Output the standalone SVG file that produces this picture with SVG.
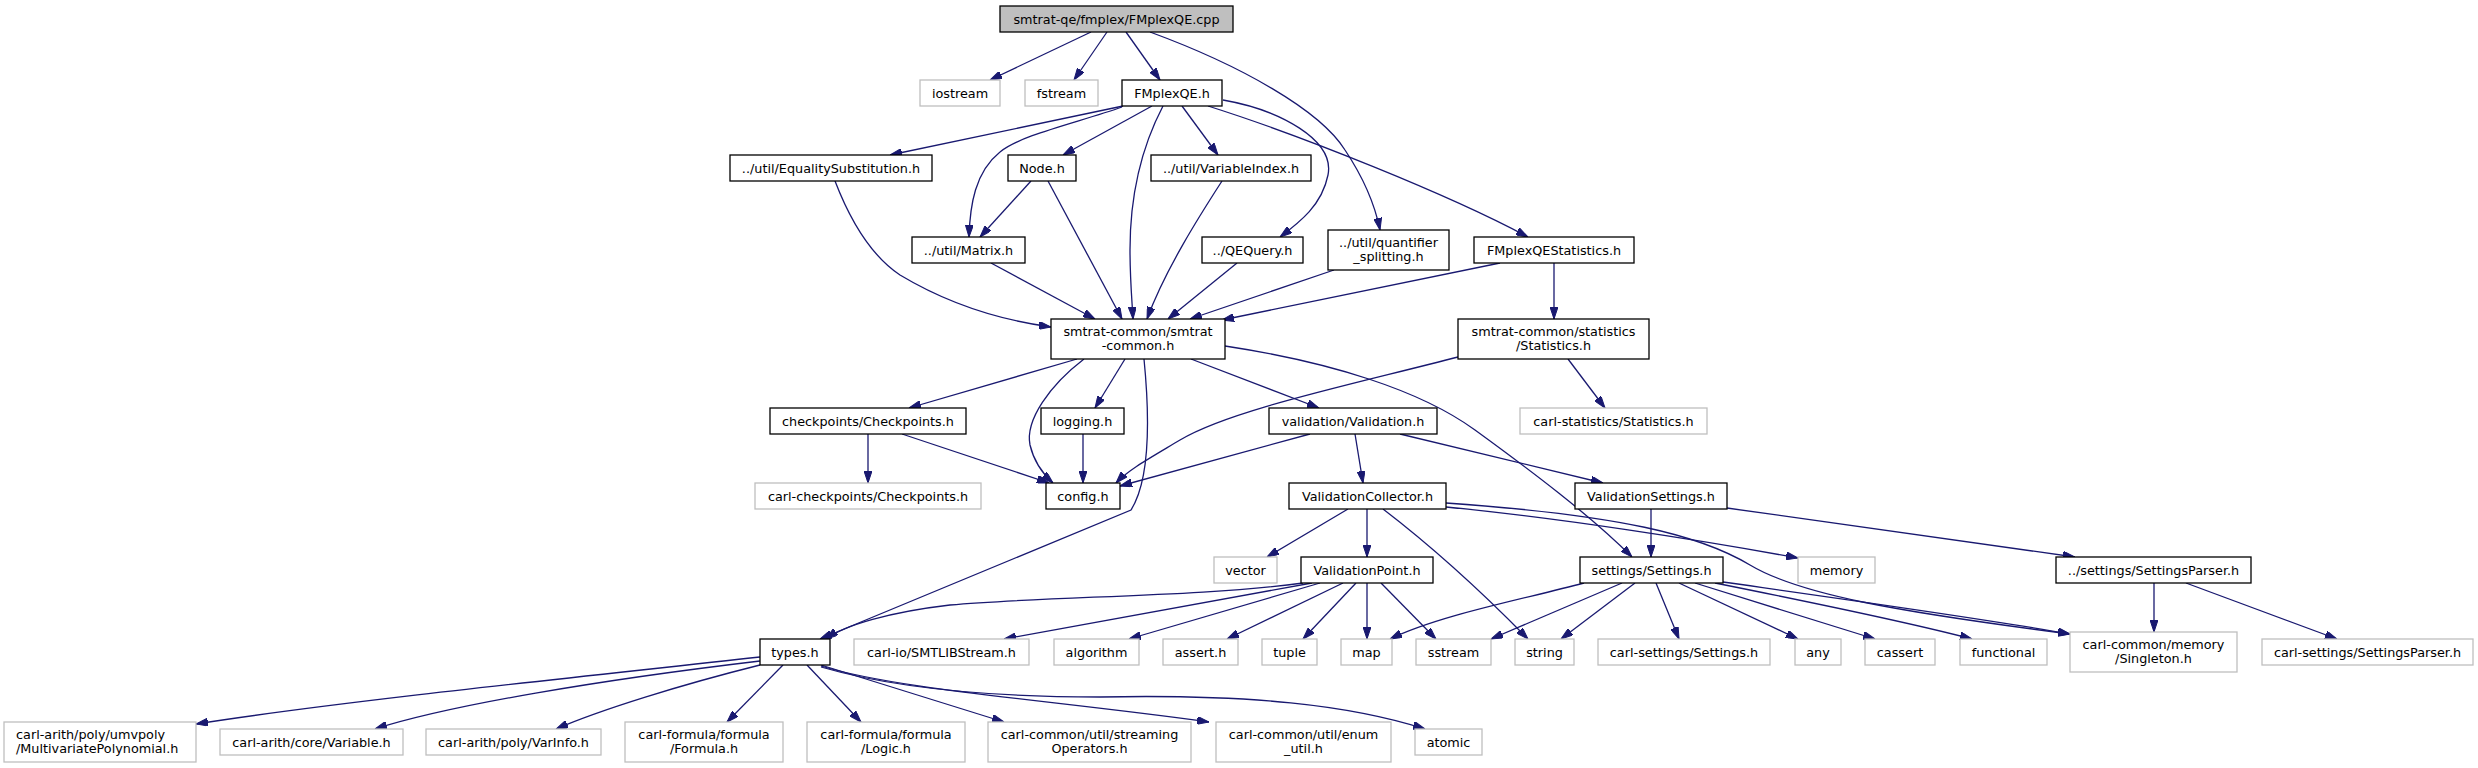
<svg xmlns="http://www.w3.org/2000/svg" width="2478" height="768" viewBox="0 0 2478 768">
<style>
.n rect{fill:#fff;stroke:#000;stroke-width:1.3}
.g rect{fill:#fff;stroke:#bfbfbf;stroke-width:1.3}
.r rect{fill:#bfbfbf;stroke:#000;stroke-width:1.3}
text{font-family:"DejaVu Sans",sans-serif;font-size:12.8px;fill:#000;text-anchor:middle}
#edges path{fill:none;stroke:#191970;stroke-width:1.3;marker-end:url(#a)}
</style>
<defs>
<marker id="a" markerWidth="12" markerHeight="8" refX="12" refY="4" orient="auto" markerUnits="userSpaceOnUse"><path d="M0,0 L12,4 L0,8 z" fill="#191970" stroke="#191970" stroke-width="1"/></marker>
</defs>
<rect width="2478" height="768" fill="#fff"/>
<g id="edges">
<path d="M1091,32 L990,80"/>
<path d="M1107,32 L1074,80"/>
<path d="M1126,32 L1160,80"/>
<path d="M1150,32 C1240,65 1320,110 1345,150 C1365,180 1375,205 1380,230"/>
<path d="M1123,106 L890,155"/>
<path d="M1122,107 C1080,122 1020,135 1000,152 C975,172 970,205 969,237"/>
<path d="M1152,106 L1063,155"/>
<path d="M1163,106 C1140,150 1130,200 1130,250 C1130,280 1132,300 1133,319"/>
<path d="M1182,106 L1218,155"/>
<path d="M1223,100 C1280,110 1335,140 1328,175 C1322,205 1300,222 1280,237"/>
<path d="M1208,106 C1300,135 1450,195 1528,237"/>
<path d="M835,181 C850,220 870,255 900,275 C950,305 1000,320 1051,327"/>
<path d="M1031,181 L980,237"/>
<path d="M1048,181 L1122,319"/>
<path d="M991,263 L1095,319"/>
<path d="M1222,181 C1200,215 1165,270 1147,319"/>
<path d="M1237,263 L1168,319"/>
<path d="M1334,270 L1190,319"/>
<path d="M1500,263 L1222,320"/>
<path d="M1554,263 L1554,319"/>
<path d="M1077,359 L909,408"/>
<path d="M1084,359 C1050,385 1025,420 1030,445 C1034,462 1043,474 1053,483"/>
<path d="M1125,359 L1095,408"/>
<path d="M1144,359 C1150,420 1150,480 1131,510 L820,639"/>
<path d="M1191,359 L1319,408"/>
<path d="M1225,346 C1330,362 1420,390 1475,430 C1530,470 1590,515 1632,557"/>
<path d="M1458,357 C1350,385 1230,410 1180,440 C1150,458 1128,470 1116,483"/>
<path d="M1568,359 L1605,408"/>
<path d="M868,434 L868,483"/>
<path d="M902,434 L1049,483"/>
<path d="M1083,434 L1083,483"/>
<path d="M1310,434 L1120,486"/>
<path d="M1355,434 L1363,483"/>
<path d="M1400,434 L1603,483"/>
<path d="M1348,509 L1267,557"/>
<path d="M1367,509 L1367,557"/>
<path d="M1383,509 C1430,545 1480,590 1528,639"/>
<path d="M1446,507 C1560,518 1700,540 1798,558"/>
<path d="M1446,503 C1620,515 1700,535 1750,565 C1800,595 1900,612 2070,634"/>
<path d="M1651,509 L1651,557"/>
<path d="M1727,508 L2075,557"/>
<path d="M1303,583 C1200,597 1050,596 950,605 C890,612 845,625 826,639"/>
<path d="M1312,583 L1004,639"/>
<path d="M1320,583 L1129,639"/>
<path d="M1343,583 L1227,639"/>
<path d="M1356,583 L1303,639"/>
<path d="M1367,583 L1367,639"/>
<path d="M1381,583 L1436,639"/>
<path d="M1584,583 C1520,600 1440,615 1390,639"/>
<path d="M1622,583 L1491,639"/>
<path d="M1635,583 L1561,639"/>
<path d="M1656,583 L1679,639"/>
<path d="M1679,583 L1798,639"/>
<path d="M1695,583 L1875,639"/>
<path d="M1715,583 C1800,600 1900,620 1972,639"/>
<path d="M1723,582 C1850,600 1980,618 2070,634"/>
<path d="M2154,583 L2154,632"/>
<path d="M2186,583 L2337,639"/>
<path d="M760,657 C600,675 350,700 196,724"/>
<path d="M760,661 C600,680 450,705 375,729"/>
<path d="M760,665 C680,685 600,710 556,729"/>
<path d="M783,665 L727,722"/>
<path d="M807,665 L861,722"/>
<path d="M821,665 L1004,722"/>
<path d="M821,666 C900,690 1050,700 1209,722"/>
<path d="M821,667 C900,690 1000,697 1100,697 C1250,694 1350,705 1425,729"/>
</g>
<g id="n_root" class="r"><rect x="1000" y="6" width="233" height="26"/><text x="1116.5" y="23.5">smtrat-qe/fmplex/FMplexQE.cpp</text></g>
<g id="n_iostream" class="g"><rect x="920" y="80" width="80" height="26"/><text x="960" y="97.5">iostream</text></g>
<g id="n_fstream" class="g"><rect x="1025" y="80" width="73" height="26"/><text x="1061.5" y="97.5">fstream</text></g>
<g id="n_fmplexqe" class="n"><rect x="1122" y="80" width="100" height="26"/><text x="1172" y="97.5">FMplexQE.h</text></g>
<g id="n_eqsub" class="n"><rect x="730" y="155" width="202" height="26"/><text x="831" y="172.5">../util/EqualitySubstitution.h</text></g>
<g id="n_node" class="n"><rect x="1008" y="155" width="68" height="26"/><text x="1042" y="172.5">Node.h</text></g>
<g id="n_varindex" class="n"><rect x="1151" y="155" width="160" height="26"/><text x="1231" y="172.5">../util/VariableIndex.h</text></g>
<g id="n_matrix" class="n"><rect x="912" y="237" width="113" height="26"/><text x="968.5" y="254.5">../util/Matrix.h</text></g>
<g id="n_qequery" class="n"><rect x="1202" y="237" width="101" height="26"/><text x="1252.5" y="254.5">../QEQuery.h</text></g>
<g id="n_quant" class="n"><rect x="1328" y="230" width="121" height="40"/><text x="1388.5" y="246.5">../util/quantifier</text><text x="1388.5" y="261">_splitting.h</text></g>
<g id="n_fmstats" class="n"><rect x="1474" y="237" width="160" height="26"/><text x="1554" y="254.5">FMplexQEStatistics.h</text></g>
<g id="n_smtratcommon" class="n"><rect x="1051" y="319" width="174" height="40"/><text x="1138" y="335.5">smtrat-common/smtrat</text><text x="1138" y="350">-common.h</text></g>
<g id="n_statistics" class="n"><rect x="1458" y="319" width="191" height="40"/><text x="1553.5" y="335.5">smtrat-common/statistics</text><text x="1553.5" y="350">/Statistics.h</text></g>
<g id="n_checkpoints" class="n"><rect x="770" y="408" width="196" height="26"/><text x="868" y="425.5">checkpoints/Checkpoints.h</text></g>
<g id="n_logging" class="n"><rect x="1041" y="408" width="83" height="26"/><text x="1082.5" y="425.5">logging.h</text></g>
<g id="n_validation" class="n"><rect x="1269" y="408" width="168" height="26"/><text x="1353" y="425.5">validation/Validation.h</text></g>
<g id="n_carlstats" class="g"><rect x="1520" y="408" width="187" height="26"/><text x="1613.5" y="425.5">carl-statistics/Statistics.h</text></g>
<g id="n_carlcheck" class="g"><rect x="755" y="483" width="226" height="26"/><text x="868" y="500.5">carl-checkpoints/Checkpoints.h</text></g>
<g id="n_config" class="n"><rect x="1046" y="483" width="74" height="26"/><text x="1083" y="500.5">config.h</text></g>
<g id="n_valcollector" class="n"><rect x="1289" y="483" width="157" height="26"/><text x="1367.5" y="500.5">ValidationCollector.h</text></g>
<g id="n_valsettings" class="n"><rect x="1575" y="483" width="152" height="26"/><text x="1651" y="500.5">ValidationSettings.h</text></g>
<g id="n_vector" class="g"><rect x="1214" y="557" width="63" height="26"/><text x="1245.5" y="574.5">vector</text></g>
<g id="n_valpoint" class="n"><rect x="1301" y="557" width="132" height="26"/><text x="1367" y="574.5">ValidationPoint.h</text></g>
<g id="n_settings" class="n"><rect x="1580" y="557" width="143" height="26"/><text x="1651.5" y="574.5">settings/Settings.h</text></g>
<g id="n_memory" class="g"><rect x="1798" y="557" width="77" height="26"/><text x="1836.5" y="574.5">memory</text></g>
<g id="n_settingsparser" class="n"><rect x="2056" y="557" width="195" height="26"/><text x="2153.5" y="574.5">../settings/SettingsParser.h</text></g>
<g id="n_types" class="n"><rect x="760" y="639" width="70" height="26"/><text x="795" y="656.5">types.h</text></g>
<g id="n_smtlib" class="g"><rect x="854" y="639" width="175" height="26"/><text x="941.5" y="656.5">carl-io/SMTLIBStream.h</text></g>
<g id="n_algorithm" class="g"><rect x="1054" y="639" width="85" height="26"/><text x="1096.5" y="656.5">algorithm</text></g>
<g id="n_assert" class="g"><rect x="1163" y="639" width="75" height="26"/><text x="1200.5" y="656.5">assert.h</text></g>
<g id="n_tuple" class="g"><rect x="1262" y="639" width="55" height="26"/><text x="1289.5" y="656.5">tuple</text></g>
<g id="n_map" class="g"><rect x="1341" y="639" width="51" height="26"/><text x="1366.5" y="656.5">map</text></g>
<g id="n_sstream" class="g"><rect x="1416" y="639" width="75" height="26"/><text x="1453.5" y="656.5">sstream</text></g>
<g id="n_string" class="g"><rect x="1515" y="639" width="59" height="26"/><text x="1544.5" y="656.5">string</text></g>
<g id="n_carlsettings" class="g"><rect x="1598" y="639" width="172" height="26"/><text x="1684" y="656.5">carl-settings/Settings.h</text></g>
<g id="n_any" class="g"><rect x="1795" y="639" width="46" height="26"/><text x="1818" y="656.5">any</text></g>
<g id="n_cassert" class="g"><rect x="1865" y="639" width="70" height="26"/><text x="1900" y="656.5">cassert</text></g>
<g id="n_functional" class="g"><rect x="1960" y="639" width="87" height="26"/><text x="2003.5" y="656.5">functional</text></g>
<g id="n_singleton" class="g"><rect x="2070" y="632" width="167" height="40"/><text x="2153.5" y="648.5">carl-common/memory</text><text x="2153.5" y="663">/Singleton.h</text></g>
<g id="n_carlsettingsparser" class="g"><rect x="2262" y="639" width="211" height="26"/><text x="2367.5" y="656.5">carl-settings/SettingsParser.h</text></g>
<g id="n_multipoly" class="g"><rect x="4" y="722" width="192" height="40"/><text x="16" y="738.5" style="text-anchor:start">carl-arith/poly/umvpoly</text><text x="16" y="753" style="text-anchor:start">/MultivariatePolynomial.h</text></g>
<g id="n_variable" class="g"><rect x="220" y="729" width="183" height="26"/><text x="311.5" y="746.5">carl-arith/core/Variable.h</text></g>
<g id="n_varinfo" class="g"><rect x="426" y="729" width="175" height="26"/><text x="513.5" y="746.5">carl-arith/poly/VarInfo.h</text></g>
<g id="n_formula" class="g"><rect x="625" y="722" width="158" height="40"/><text x="704" y="738.5">carl-formula/formula</text><text x="704" y="753">/Formula.h</text></g>
<g id="n_logic" class="g"><rect x="807" y="722" width="158" height="40"/><text x="886" y="738.5">carl-formula/formula</text><text x="886" y="753">/Logic.h</text></g>
<g id="n_streaming" class="g"><rect x="988" y="722" width="203" height="40"/><text x="1089.5" y="738.5">carl-common/util/streaming</text><text x="1089.5" y="753">Operators.h</text></g>
<g id="n_enum" class="g"><rect x="1216" y="722" width="175" height="40"/><text x="1303.5" y="738.5">carl-common/util/enum</text><text x="1303.5" y="753">_util.h</text></g>
<g id="n_atomic" class="g"><rect x="1415" y="729" width="67" height="26"/><text x="1448.5" y="746.5">atomic</text></g>
</svg>
